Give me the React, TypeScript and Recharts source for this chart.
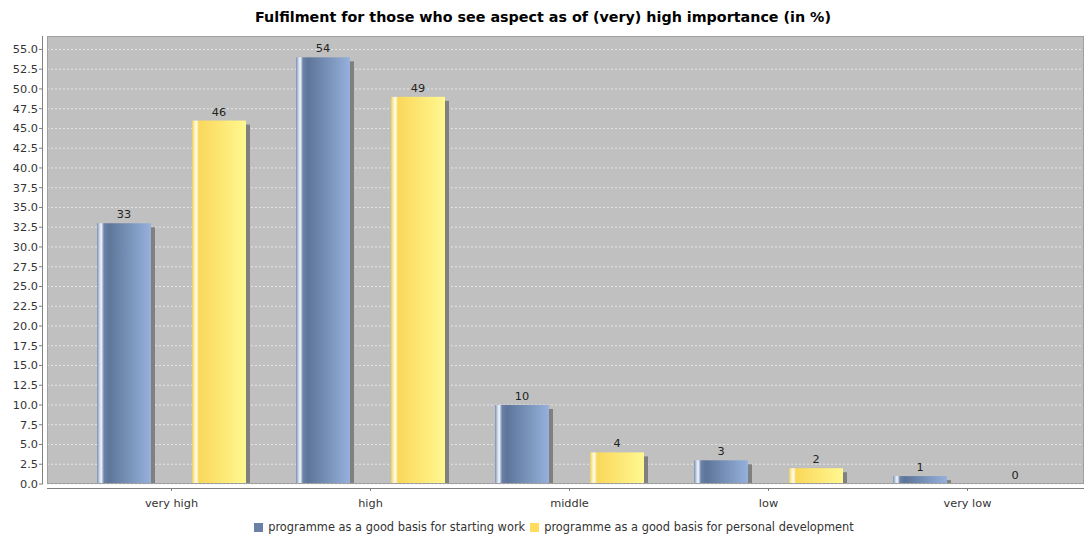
import React from 'react';
import { BarChart, Bar, XAxis, YAxis, CartesianGrid, Legend, LabelList } from 'recharts';

const categories = ['very high', 'high', 'middle', 'low', 'very low'];
const startingWork = [33, 54, 10, 3, 1];
const personalDev = [46, 49, 4, 2, 0];
const yTicks = [0, 2.5, 5, 7.5, 10, 12.5, 15, 17.5, 20, 22.5, 25, 27.5, 30, 32.5, 35, 37.5, 40, 42.5, 45, 47.5, 50, 52.5, 55];
const seriesNames = ['programme as a good basis for starting work', 'programme as a good basis for personal development'];

const data = categories.map((c, i) => ({ cat: c, work: startingWork[i], dev: personalDev[i] }));

const W = 1086;
const H = 535;
const PLOT_LEFT = 47;
const PLOT_RIGHT = 1084;
const PLOT_TOP = 36;
const PLOT_BOTTOM = 484;
const FONT = '"DejaVu Sans", sans-serif';

const GlossyBar = (gradId: string) => (props: any) => {
  const { x, y, width, height } = props;
  if (!height || height <= 0) return null;
  return (
    <g>
      <rect x={x + 4} y={y + 4} width={width} height={Math.max(height - 4, 0)} fill="#808080" />
      <rect x={x} y={y} width={width} height={height} fill={`url(#${gradId})`} />
    </g>
  );
};

const YTick = (props: any) => {
  const { y, payload } = props;
  return (
    <g>
      <line x1={PLOT_LEFT - 8} x2={PLOT_LEFT - 4} y1={y} y2={y} stroke="#808080" />
      <text x={PLOT_LEFT - 9} y={y} dy={4} textAnchor="end" fontSize={11.3} fill="#333" fontFamily={FONT}>
        {Number(payload.value).toFixed(1)}
      </text>
    </g>
  );
};

const XTick = (props: any) => {
  const { x, payload } = props;
  return (
    <g>
      <line x1={x} x2={x} y1={PLOT_BOTTOM + 4} y2={PLOT_BOTTOM + 7} stroke="#808080" />
      <text x={x} y={PLOT_BOTTOM + 23} textAnchor="middle" fontSize={11.3} fill="#333" fontFamily={FONT}>
        {payload.value}
      </text>
    </g>
  );
};

// legend drawn the JFreeChart way: small squares, text right after
const LegendContent = () => (
  <div style={{ display: 'flex', justifyContent: 'center', alignItems: 'center', height: 20, paddingTop: 4, paddingLeft: 24, boxSizing: 'border-box', fontFamily: FONT, fontSize: 11.4, color: '#333' }}>
    <span style={{ display: 'inline-block', width: 9, height: 9, background: '#6b80a6', marginRight: 5 }} />
    <span style={{ marginRight: 5 }}>{seriesNames[0]}</span>
    <span style={{ display: 'inline-block', width: 9, height: 9, background: '#ffdc5e', marginRight: 5 }} />
    <span>{seriesNames[1]}</span>
  </div>
);

export default function App() {
  return (
    <div style={{ position: 'relative', width: W, height: H, background: '#fff' }}>
      <style>{'body{margin:0}'}</style>
      <div
        style={{
          position: 'absolute', top: 9, left: 0, width: W, textAlign: 'center',
          fontFamily: FONT, fontWeight: 'bold', fontSize: 14.3, color: '#000',
        }}
      >
        Fulfilment for those who see aspect as of (very) high importance (in %)
      </div>
      <BarChart
        width={W}
        height={H}
        data={data}
        margin={{ top: PLOT_TOP, right: W - PLOT_RIGHT, left: 0, bottom: 0 }}
        barSize={54}
        barGap={41}
      >
        <defs>
          <linearGradient id="gBlue" x1="0" y1="0" x2="1" y2="0">
            <stop offset="0%" stopColor="#7a8fb2" />
            <stop offset="5%" stopColor="#d0dbeb" />
            <stop offset="8%" stopColor="#f2f6fc" />
            <stop offset="13%" stopColor="#6a82a8" />
            <stop offset="22%" stopColor="#5e7599" />
            <stop offset="100%" stopColor="#95b1dc" />
          </linearGradient>
          <linearGradient id="gYellow" x1="0" y1="0" x2="1" y2="0">
            <stop offset="0%" stopColor="#e8cf60" />
            <stop offset="5%" stopColor="#fff2b8" />
            <stop offset="8%" stopColor="#fffcee" />
            <stop offset="13%" stopColor="#f8d85a" />
            <stop offset="22%" stopColor="#fbdb60" />
            <stop offset="100%" stopColor="#fff890" />
          </linearGradient>
        </defs>
        <CartesianGrid
          vertical={false}
          fill="#c0c0c0"
          stroke="#e6e6e6"
          strokeDasharray="2 2"
          horizontalValues={yTicks}
        />
        <XAxis
          dataKey="cat"
          axisLine={false}
          tickLine={false}
          tick={<XTick />}
          height={31}
          padding={{ left: 25, right: 17 }}
          interval={0}
        />
        <YAxis
          domain={[0, 56.7]}
          ticks={yTicks}
          axisLine={false}
          tickLine={false}
          tick={<YTick />}
          width={PLOT_LEFT}
          interval={0}
        />
        <Legend verticalAlign="bottom" content={<LegendContent />} />
        <Bar dataKey="work" name={seriesNames[0]} fill="#6b80a6" shape={GlossyBar('gBlue')} isAnimationActive={false}>
          <LabelList dataKey="work" position="top" offset={5} fontSize={11.3} fill="#222" fontFamily={FONT} />
        </Bar>
        <Bar dataKey="dev" name={seriesNames[1]} fill="#ffdc5e" shape={GlossyBar('gYellow')} isAnimationActive={false}>
          <LabelList dataKey="dev" position="top" offset={5} fontSize={11.3} fill="#222" fontFamily={FONT} />
        </Bar>
      </BarChart>
      <svg
        width={W}
        height={H}
        style={{ position: 'absolute', left: 0, top: 0, pointerEvents: 'none' }}
      >
        <rect x={PLOT_LEFT + 0.5} y={PLOT_TOP + 0.5} width={PLOT_RIGHT - PLOT_LEFT - 1} height={PLOT_BOTTOM - PLOT_TOP - 1} fill="none" stroke="#a0a0a0" />
        <line x1={PLOT_LEFT - 4.5} x2={PLOT_LEFT - 4.5} y1={PLOT_TOP} y2={PLOT_BOTTOM} stroke="#808080" />
        <line x1={PLOT_LEFT} x2={PLOT_RIGHT} y1={PLOT_BOTTOM + 4.5} y2={PLOT_BOTTOM + 4.5} stroke="#808080" />
      </svg>
    </div>
  );
}
